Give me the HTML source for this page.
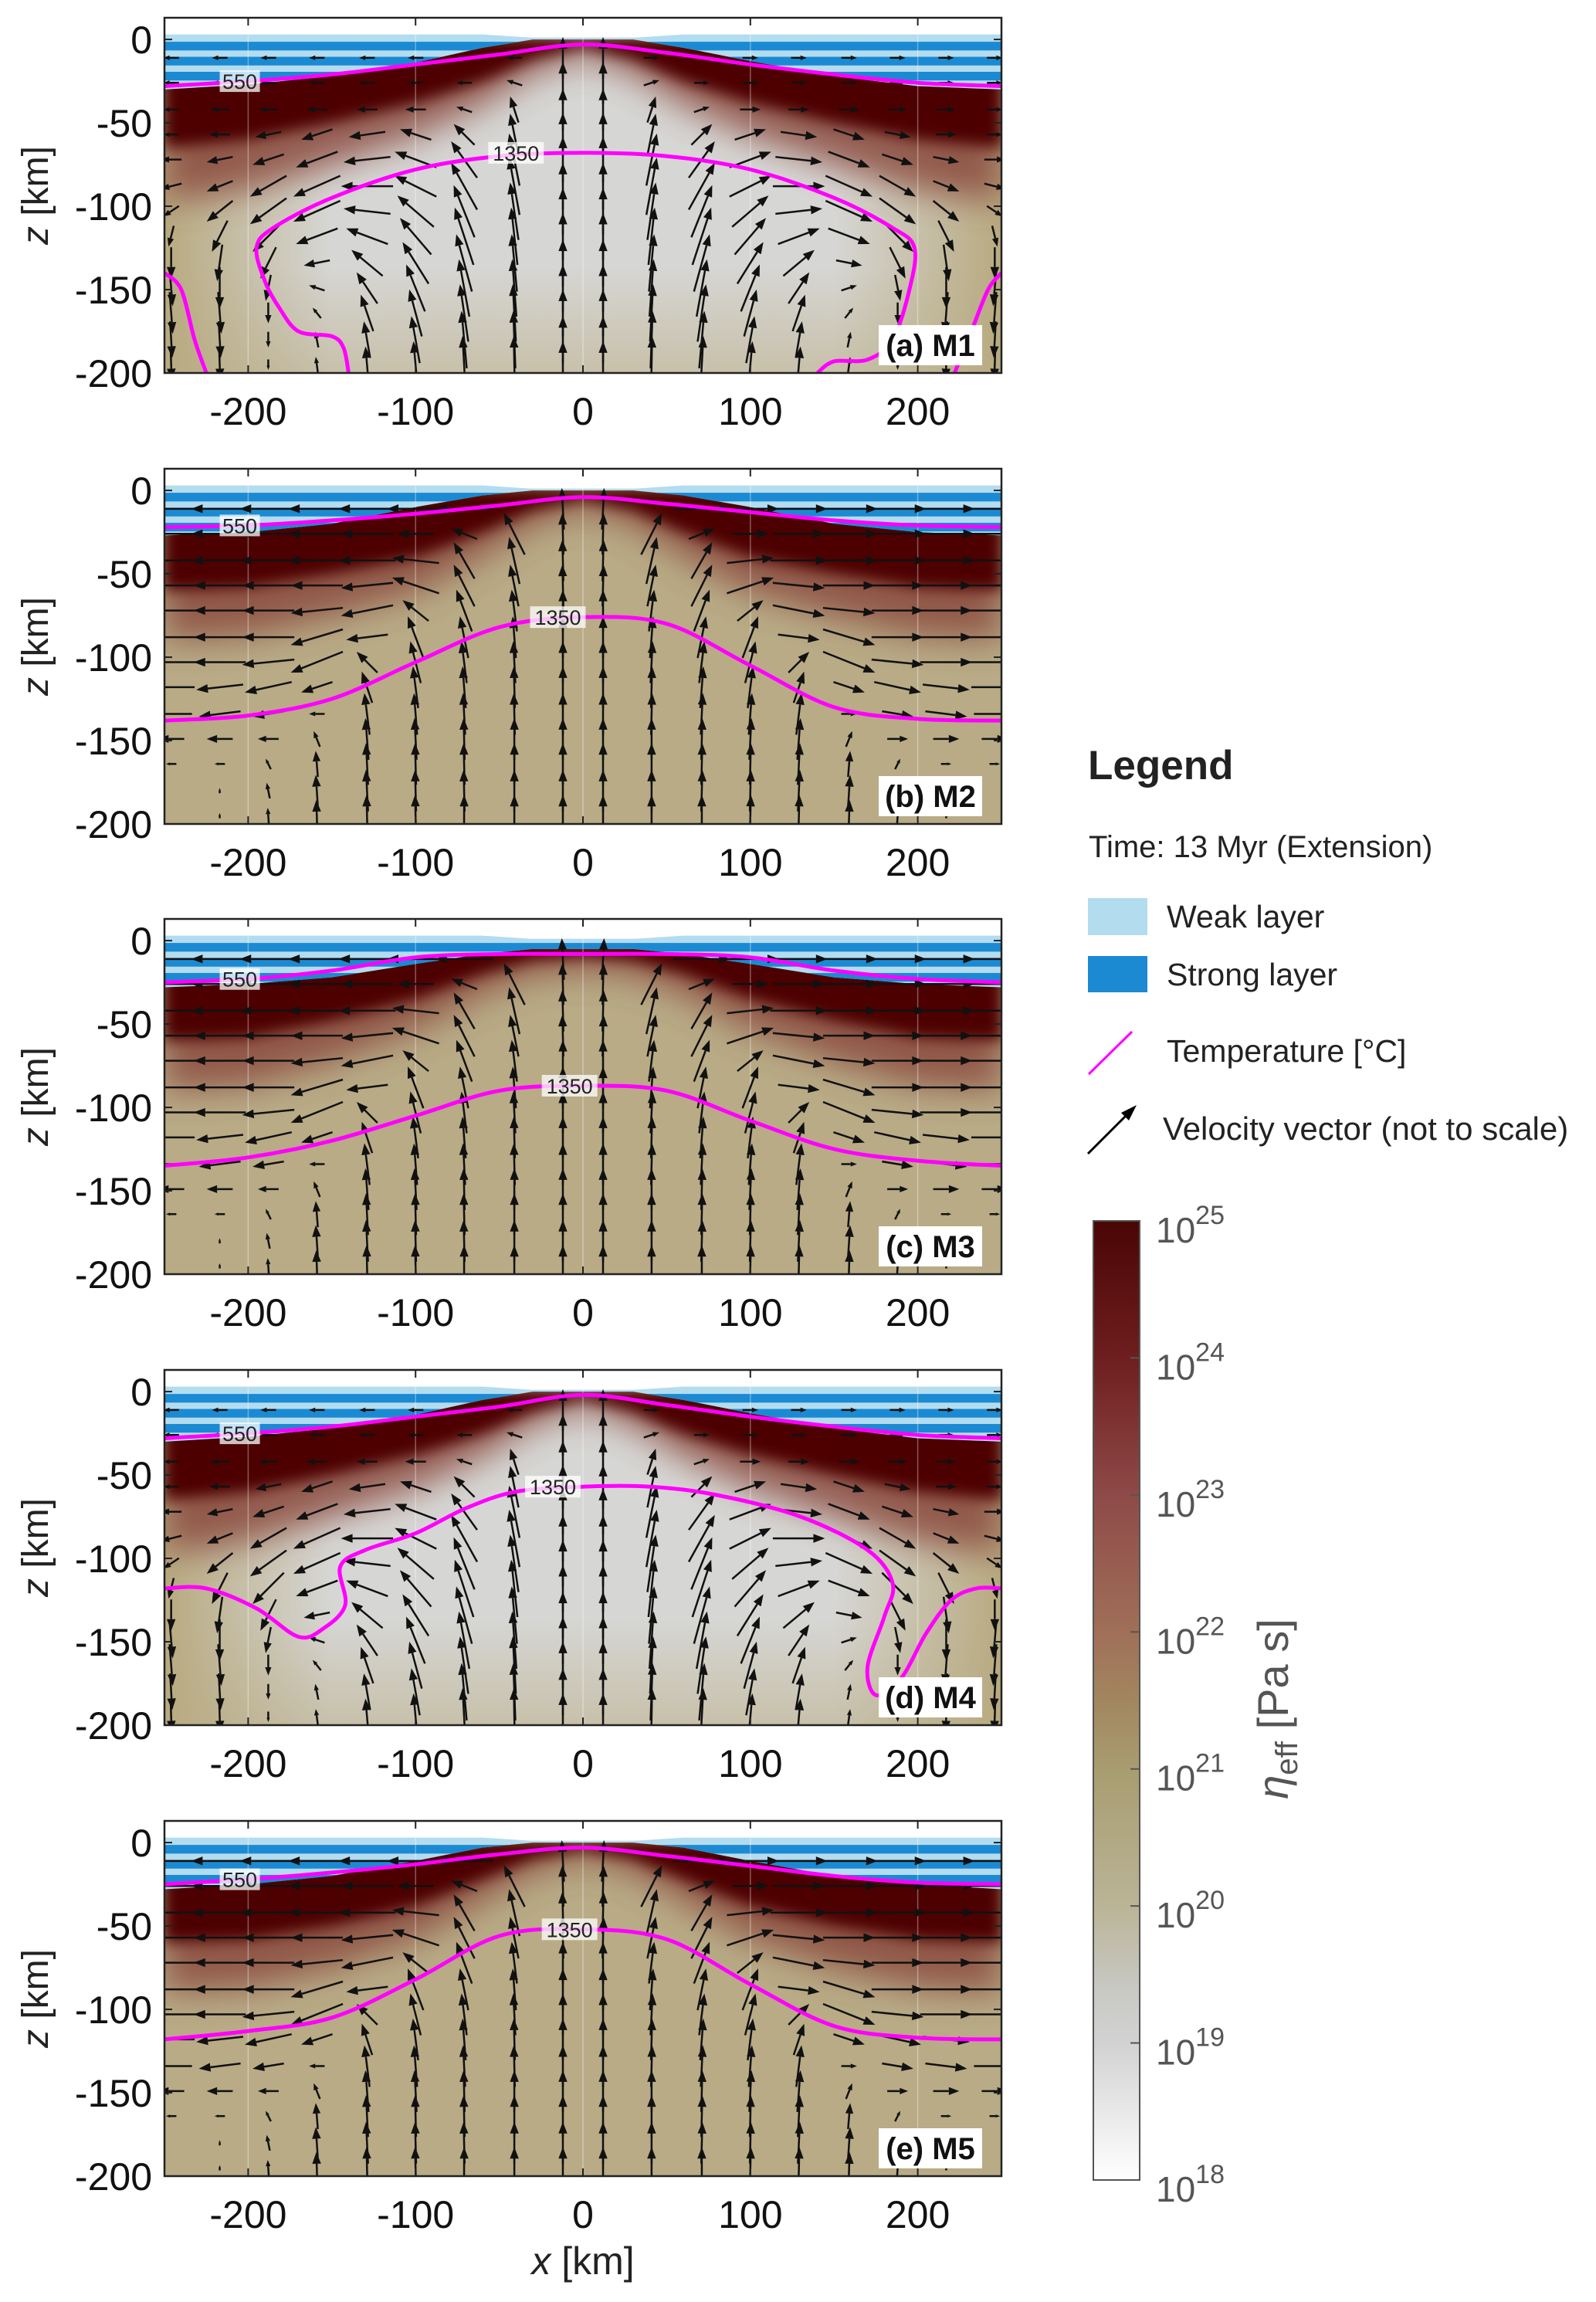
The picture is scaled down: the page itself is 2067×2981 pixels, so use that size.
<!DOCTYPE html>
<html><head><meta charset="utf-8"><style>
html,body{margin:0;padding:0;background:#fff;}
svg{display:block;}
text{font-family:"Liberation Sans",sans-serif;}
</style></head><body>
<svg id="fig" width="2067" height="2981" viewBox="0 0 2067 2981" xmlns="http://www.w3.org/2000/svg">
<defs>
<filter id="blur1" x="-20%" y="-50%" width="140%" height="200%"><feGaussianBlur stdDeviation="9"/></filter>
<filter id="blur2" x="-20%" y="-50%" width="140%" height="200%"><feGaussianBlur stdDeviation="22"/></filter>
<linearGradient id="cbgrad" x1="0" y1="0" x2="0" y2="1">
<stop offset="0" stop-color="#4a0505"/><stop offset="0.143" stop-color="#6e1e1e"/>
<stop offset="0.286" stop-color="#8e4a48"/><stop offset="0.43" stop-color="#a07058"/>
<stop offset="0.5" stop-color="#a28660"/><stop offset="0.571" stop-color="#a89c70"/>
<stop offset="0.714" stop-color="#bab496"/><stop offset="0.8" stop-color="#c8c8c4"/>
<stop offset="0.857" stop-color="#d2d2d2"/><stop offset="1" stop-color="#ffffff"/>
</linearGradient>
<linearGradient id="grayside" x1="0" y1="0" x2="1" y2="0">
<stop offset="0" stop-color="#b8aa80"/><stop offset="0.2" stop-color="#d6d6d4"/>
<stop offset="0.8" stop-color="#d6d6d4"/><stop offset="1" stop-color="#b8aa80"/>
</linearGradient>
<linearGradient id="graybottom" x1="0" y1="0" x2="0" y2="1">
<stop offset="0.7" stop-color="#b8aa80" stop-opacity="0"/><stop offset="1" stop-color="#b8aa80" stop-opacity="0.5"/>
</linearGradient>
</defs>
<g id="panels"></g>
<g id="legend">
<text x="1409" y="1009" font-size="53" font-weight="bold" fill="#222">Legend</text>
<text x="1410" y="1110" font-size="40" fill="#222">Time: 13 Myr (Extension)</text>
<rect x="1409" y="1163" width="77" height="48" fill="#b3dcef"/>
<text x="1511" y="1201" font-size="41" fill="#222">Weak layer</text>
<rect x="1409" y="1238" width="77" height="47" fill="#1b8ad2"/>
<text x="1511" y="1276" font-size="41" fill="#222">Strong layer</text>
<line x1="1410" y1="1391" x2="1466" y2="1336" stroke="#ff00ff" stroke-width="3"/>
<text x="1511" y="1375" font-size="41" fill="#222">Temperature [°C]</text>
<line x1="1409" y1="1494" x2="1462" y2="1441" stroke="#000" stroke-width="3"/>
<polygon points="1472,1431 1452,1441 1462,1451" fill="#000"/>
<text x="1506" y="1476" font-size="42" fill="#222">Velocity vector (not to scale)</text>
</g>
<g id="colorbar">
<rect x="1416" y="1581" width="60" height="1242" fill="url(#cbgrad)" stroke="#555" stroke-width="2"/>
<g id="cbticks"></g>
<text transform="translate(1668,2213) rotate(-90)" text-anchor="middle" font-family="Liberation Serif,serif" font-size="56" fill="#555"><tspan font-style="italic">η</tspan><tspan font-size="40" dy="12">eff</tspan><tspan dy="-12"> [Pa s]</tspan></text>
</g>
<text x="755" y="2945" text-anchor="middle" font-family="Liberation Serif,serif" font-size="50" fill="#222"><tspan font-style="italic">x</tspan> [km]</text>
</svg>
<script>
const NS="http://www.w3.org/2000/svg";
// ---- data ----
const panelLabels=["(a) M1","(b) M2","(c) M3","(d) M4","(e) M5"];
const panelTops=[23,607,1190,1774,2358];
const xTicks=[-200,-100,0,100,200];
const zTicks=[0,-50,-100,-150,-200];
const cbExponents=[25,24,23,22,21,20,19,18];
// 550 C isotherm (x km, z km)
const c550X=[-250,-200,-150,-100,-50,0,50,100,150,200,250];
const m1_z550=[-28,-25,-21,-15,-9,-3,-8,-15,-21,-26,-28];
const m2_z550=[-22,-21,-18,-14,-9,-4,-8,-13,-18,-21,-22];
const m3_z550=[-25,-23,-18,-10,-8,-8,-8,-10,-18,-23,-25];
const m4_z550=[-28,-25,-21,-15,-9,-2,-8,-15,-21,-26,-28];
const m5_z550=[-25,-22,-18,-13,-7,-3,-8,-14,-20,-24,-25];
// 1350 C isotherm segments
const m1_1350a_x=[-250,-240,-232,-225], m1_1350a_z=[-140,-150,-180,-200];
const m1_1350b_x=[-140,-143,-150,-170,-182,-190,-195,-185,-150,-100,-50,0,50,100,150,185,198,195,185,170,150,140];
const m1_1350b_z=[-200,-185,-178,-175,-160,-145,-125,-113,-95,-78,-70,-68,-70,-78,-95,-113,-125,-150,-180,-192,-193,-200];
const m1_1350c_x=[250,242,232,222], m1_1350c_z=[-140,-150,-175,-200];
const m2_1350x=[-250,-200,-150,-100,-50,0,50,100,150,200,250];
const m2_1350z=[-138,-135,-125,-103,-82,-76,-80,-105,-130,-137,-138];
const m3_1350z=[-135,-130,-120,-105,-90,-87,-90,-108,-125,-132,-135];
const m5_1350z=[-118,-113,-105,-82,-56,-52,-58,-85,-110,-117,-118];
const m4_1350x=[-250,-225,-195,-170,-155,-142,-145,-130,-100,-70,-40,0,40,80,130,170,185,180,170,175,190,205,220,235,250];
const m4_1350z=[-118,-118,-130,-147,-142,-128,-105,-95,-85,-70,-60,-57,-57,-62,-75,-95,-115,-135,-165,-182,-172,-145,-125,-118,-118];
// lithosphere base (dark zone) per panel
const lithoX=[-250,-200,-150,-100,-60,-30,0,30,60,100,150,200,250];
const m1_litho=[-65,-60,-50,-38,-25,-12,-5,-12,-25,-38,-50,-60,-65];
const m2_litho=[-60,-58,-50,-40,-25,-12,-6,-12,-25,-40,-50,-58,-60];
const m3_litho=[-60,-58,-48,-35,-20,-12,-10,-12,-20,-35,-48,-58,-60];
const m5_litho=[-60,-58,-50,-38,-22,-10,-5,-10,-22,-38,-50,-58,-60];
// crust base
const m1_crust=[-30,-27,-22,-14,-5,0,0,0,-5,-13,-22,-28,-30];
const m2_crust=[-27,-25,-20,-10,-3,0,0,0,-3,-10,-20,-25,-27];
const m3_crust=[-28,-26,-22,-14,-8,-5,-5,-5,-8,-14,-22,-26,-28];
const m5_crust=[-28,-25,-20,-11,-3,0,0,0,-3,-11,-20,-25,-28];
const stripeZ=[-4,-13,-22];
// velocity field (right half; mirrored). columns x km, rows z km, u right / w up
const velCols=[12,41,71,100,129,159,188,217,246];
const velRows=[-11,-26,-42,-57,-72,-88,-103,-118,-134,-149,-164,-180,-195];
const uB=[[2,0,55,55,55,55,55,55,55],[1,20,25,35,50,55,55,55,55],[1,10,20,45,55,55,55,55,55],[1,8,20,45,50,50,50,50,50],[0,5,15,25,50,50,50,50,50],[0,3,8,15,40,50,50,50,50],[0,2,5,10,20,50,50,50,50],[0,1,3,5,10,30,45,45,45],[0,1,2,3,5,15,30,40,40],[0,0,1,2,3,6,20,25,25],[0,0,1,1,2,2,5,10,10],[0,0,1,1,2,2,3,0,0],[0,0,0,1,1,1,1,0,0]];
const wB=[[40,0,0,0,0,0,0,0,0],[40,40,10,0,0,0,0,0,0],[40,45,35,5,0,0,0,0,0],[40,40,40,15,-5,0,0,0,0],[40,40,40,20,-10,-5,0,0,0],[40,40,40,40,-5,-15,0,0,0],[40,40,40,40,20,-20,-5,0,0],[40,40,40,40,30,-10,-10,-5,0],[40,40,40,40,40,0,-5,-5,0],[40,40,40,40,40,15,0,0,0],[40,40,40,40,40,25,10,0,0],[40,40,40,40,40,30,15,5,0],[40,40,40,40,40,30,15,5,0]];
const uA=[[0,15,15,15,15,15,15,15,15],[0,15,15,15,15,15,15,15,15],[0,8,15,20,20,20,18,18,15],[0,8,20,30,35,30,25,20,15],[0,10,25,40,45,40,30,25,20],[0,10,25,40,50,45,35,25,20],[0,8,20,35,45,45,35,25,15],[0,6,18,30,40,40,30,15,5],[0,5,15,25,30,25,15,5,0],[0,4,10,18,20,15,5,0,-3],[0,3,8,12,12,8,0,-3,-3],[0,2,5,8,6,3,0,-2,-2],[0,1,3,4,3,2,0,-1,-1]];
const wA=[[40,0,0,0,0,0,0,0,0],[40,5,0,0,0,0,0,0,0],[40,25,5,0,0,0,0,0,0],[42,40,20,10,-5,-10,-5,0,0],[44,50,35,15,-5,-15,-10,-5,0],[45,55,45,20,0,-20,-20,-10,-5],[45,55,50,30,5,-20,-25,-20,-10],[45,55,55,35,15,-15,-30,-30,-20],[45,55,55,40,25,-5,-30,-35,-30],[45,55,55,45,30,5,-25,-40,-35],[45,55,55,45,35,10,-20,-40,-40],[45,55,55,45,35,15,-15,-35,-35],[45,55,55,45,35,15,-10,-30,-30]];

// ---- helpers ----
const X0=213,XW=1084,PH=460,ZTOP=13,ZBOT=-200,ASC=1.35;
function xs(x){return X0+(x+250)*XW/500;}
function mk(tag,attrs,parent){const e=document.createElementNS(NS,tag);for(const k in attrs)e.setAttribute(k,attrs[k]);parent.appendChild(e);return e;}
function smooth(pts){let d="M"+pts[0][0].toFixed(1)+","+pts[0][1].toFixed(1);
 for(let i=0;i<pts.length-1;i++){const p0=pts[Math.max(0,i-1)],p1=pts[i],p2=pts[i+1],p3=pts[Math.min(pts.length-1,i+2)];
 const c1=[p1[0]+(p2[0]-p0[0])/6,p1[1]+(p2[1]-p0[1])/6],c2=[p2[0]-(p3[0]-p1[0])/6,p2[1]-(p3[1]-p1[1])/6];
 d+="C"+c1[0].toFixed(1)+","+c1[1].toFixed(1)+" "+c2[0].toFixed(1)+","+c2[1].toFixed(1)+" "+p2[0].toFixed(1)+","+p2[1].toFixed(1);}
 return d;}

const panelsG=document.getElementById('panels');
const cfg=[
 {gray:true,z550:m1_z550,iso:[[m1_1350a_x,m1_1350a_z],[m1_1350b_x,m1_1350b_z],[m1_1350c_x,m1_1350c_z]],litho:m1_litho,crust:m1_crust,u:uA,w:wA,lab1350:-40},
 {gray:false,z550:m2_z550,iso:[[m2_1350x,m2_1350z]],litho:m2_litho,crust:m2_crust,u:uB,w:wB,lab1350:-15},
 {gray:false,z550:m3_z550,iso:[[m2_1350x,m3_1350z]],litho:m3_litho,crust:m3_crust,u:uB,w:wB,lab1350:-8},
 {gray:true,z550:m4_z550,iso:[[m4_1350x,m4_1350z]],litho:m1_litho,crust:m1_crust,u:uA,w:wA,lab1350:-18},
 {gray:false,z550:m5_z550,iso:[[m2_1350x,m5_1350z]],litho:m5_litho,crust:m5_crust,u:uB,w:wB,lab1350:-8}
];
cfg.forEach((c,p)=>{
 const T=panelTops[p];
 const zs=z=>T+(ZTOP-z)*PH/(ZTOP-ZBOT);
 const g=mk('g',{},panelsG);
 
 
 const cid='clip'+p;
 const cp=mk('clipPath',{id:cid},g);mk('rect',{x:X0,y:T,width:XW,height:PH},cp);
 const inner=mk('g',{'clip-path':'url(#'+cid+')'},g);
 if(c.gray){mk('rect',{x:X0,y:T,width:XW,height:PH,fill:'url(#grayside)'},inner);mk('rect',{x:X0,y:T,width:XW,height:PH,fill:'url(#graybottom)'},inner);}
 else mk('rect',{x:X0,y:T,width:XW,height:PH,fill:'#b8ab86'},inner);
 const topPts=lithoX.map(x=>[xs(x),zs(1)]);
 const basePts=lithoX.map((x,i)=>[xs(x),zs(c.litho[i])]).reverse();
 const base2=lithoX.map((x,i)=>[xs(x),zs(c.litho[i]*1.45-3)]).reverse();
 const l2=mk('path',{d:"M"+topPts.map(q=>q.join(',')).join('L')+"L"+base2.map(q=>q.join(',')).join('L')+"Z",fill:'#8a4a3e',opacity:0.85,filter:'url(#blur2)'},inner);
 
 const l1=mk('path',{d:"M"+topPts.map(q=>q.join(',')).join('L')+"L"+basePts.map(q=>q.join(',')).join('L')+"Z",fill:'#4d0404',filter:'url(#blur1)'},inner);
 
 mk('rect',{x:X0,y:T,width:XW,height:zs(1)-T,fill:'#fff'},inner);
 mk('rect',{x:X0,y:T,width:xs(-60)-X0,height:zs(3)-T,fill:'#fff'},inner);
 mk('rect',{x:xs(60),y:T,width:X0+XW-xs(60),height:zs(3)-T,fill:'#fff'},inner);
 const ccid='cclip'+p;const ccp=mk('clipPath',{id:ccid},g);
 const ctop=lithoX.map((x,i)=>[xs(x),zs(Math.abs(x)>=60?3:1)]);
 const cbase=lithoX.map((x,i)=>[xs(x),zs(c.crust[i])]).reverse();
 mk('path',{d:"M"+ctop.map(q=>q.join(',')).join('L')+"L"+cbase.map(q=>q.join(',')).join('L')+"Z"},ccp);
 const cg=mk('g',{'clip-path':'url(#'+ccid+')'},inner);
 
 mk('rect',{x:X0,y:T,width:XW,height:zs(-35)-T,fill:'#b3dcef'},cg);
 stripeZ.forEach(sz=>{mk('rect',{x:X0,y:zs(sz+2.6),width:XW,height:zs(sz-2.6)-zs(sz+2.6),fill:'#1b8ad2'},cg);});
 xTicks.forEach(t=>mk('line',{x1:xs(t),y1:T,x2:xs(t),y2:T+PH,stroke:'#fff',"stroke-opacity":0.35,"stroke-width":1.5},inner));
 const ag=mk('g',{},inner);
 
 velRows.forEach((z,ri)=>{velCols.forEach((x,ci)=>{[1,-1].forEach(s=>{
  const u=c.u[ri][ci]*s*ASC, w=c.w[ri][ci]*ASC;const L=Math.hypot(u,w);if(L<5)return;
  const x0=xs(x*s)-u/2,y0=zs(z)+w/2,x1=xs(x*s)+u/2,y1=zs(z)-w/2;
  const ux=u/L,uy=-w/L,h=Math.min(15,L*0.4),hw=h*0.38;
  const bx=x1-ux*h,by=y1-uy*h;
  const ln=mk('line',{x1:x0,y1:y0,x2:bx,y2:by,stroke:'#111','stroke-width':2.5},ag);
  
  const hd=mk('polygon',{points:x1+","+y1+" "+(bx-uy*hw)+","+(by+ux*hw)+" "+(bx+uy*hw)+","+(by-ux*hw),fill:'#111'},ag);
  
 });});});
 const p550=mk('path',{d:smooth(c550X.map((x,i)=>[xs(x),zs(c.z550[i])])),fill:'none',stroke:'#ff00ff','stroke-width':5},inner);
 
 c.iso.forEach(seg=>{const pp=mk('path',{d:smooth(seg[0].map((x,i)=>[xs(x),zs(seg[1][i])])),fill:'none',stroke:'#ff00ff','stroke-width':5},inner);
  });
 const lx=xs(-205),ly=zs(c.z550[1]);
 mk('rect',{x:lx-26,y:ly-14,width:52,height:28,fill:'#fff',opacity:0.75},inner);
 const t5=mk('text',{x:lx,y:ly+10,'text-anchor':'middle','font-size':27,fill:'#222'},inner);t5.textContent='550';
 
 const dome=c.iso[c.iso.length>1?1:0];let mz=-999;dome[1].forEach(v=>{if(v>mz)mz=v;});
 const tx=xs(c.lab1350),ty=zs(mz);
 mk('rect',{x:tx-36,y:ty-14,width:72,height:28,fill:'#fff',opacity:0.75},inner);
 const t13=mk('text',{x:tx,y:ty+10,'text-anchor':'middle','font-size':27,fill:'#222'},inner);t13.textContent='1350';
 
 const pl=mk('rect',{x:1138,y:T+PH-62,width:134,height:52,fill:'#fff'},g);
 
 const plt=mk('text',{x:1205,y:T+PH-22,'text-anchor':'middle','font-size':40,'font-weight':'bold',fill:'#111'},g);plt.textContent=panelLabels[p];
 
 const fr=mk('rect',{x:X0,y:T,width:XW,height:PH,fill:'none',stroke:'#222','stroke-width':2.5},g);
 
 xTicks.forEach(t=>{mk('line',{x1:xs(t),y1:T,x2:xs(t),y2:T+10,stroke:'#222','stroke-width':2},g);mk('line',{x1:xs(t),y1:T+PH,x2:xs(t),y2:T+PH-10,stroke:'#222','stroke-width':2},g);
  const tt=mk('text',{x:xs(t),y:T+PH+67,'text-anchor':'middle','font-size':50,fill:'#111'},g);tt.textContent=String(t);
  });
 zTicks.forEach(t=>{mk('line',{x1:X0,y1:zs(t),x2:X0+10,y2:zs(t),stroke:'#222','stroke-width':2},g);mk('line',{x1:X0+XW,y1:zs(t),x2:X0+XW-10,y2:zs(t),stroke:'#222','stroke-width':2},g);
  const tt=mk('text',{x:197,y:zs(t)+18,'text-anchor':'end','font-size':50,fill:'#111'},g);tt.textContent=String(t);
  });
 const yl=mk('text',{transform:'translate(62,'+(T+PH/2)+') rotate(-90)','text-anchor':'middle','font-family':'Liberation Serif,serif','font-size':48,fill:'#222'},g);
 yl.innerHTML='<tspan font-style="italic">z</tspan> [km]';
 
});
const cbt=document.getElementById('cbticks');
cbExponents.forEach((e,i)=>{const y=1581+i*1242/7;
 mk('line',{x1:1476,y1:y,x2:1464,y2:y,stroke:'#555','stroke-width':2},cbt);
 const t=mk('text',{x:1497,y:y+28,'font-size':46,fill:'#555'},cbt);
 t.innerHTML='10<tspan font-size="34" dy="-24">'+e+'</tspan>';
 });
</script>
</body></html>
